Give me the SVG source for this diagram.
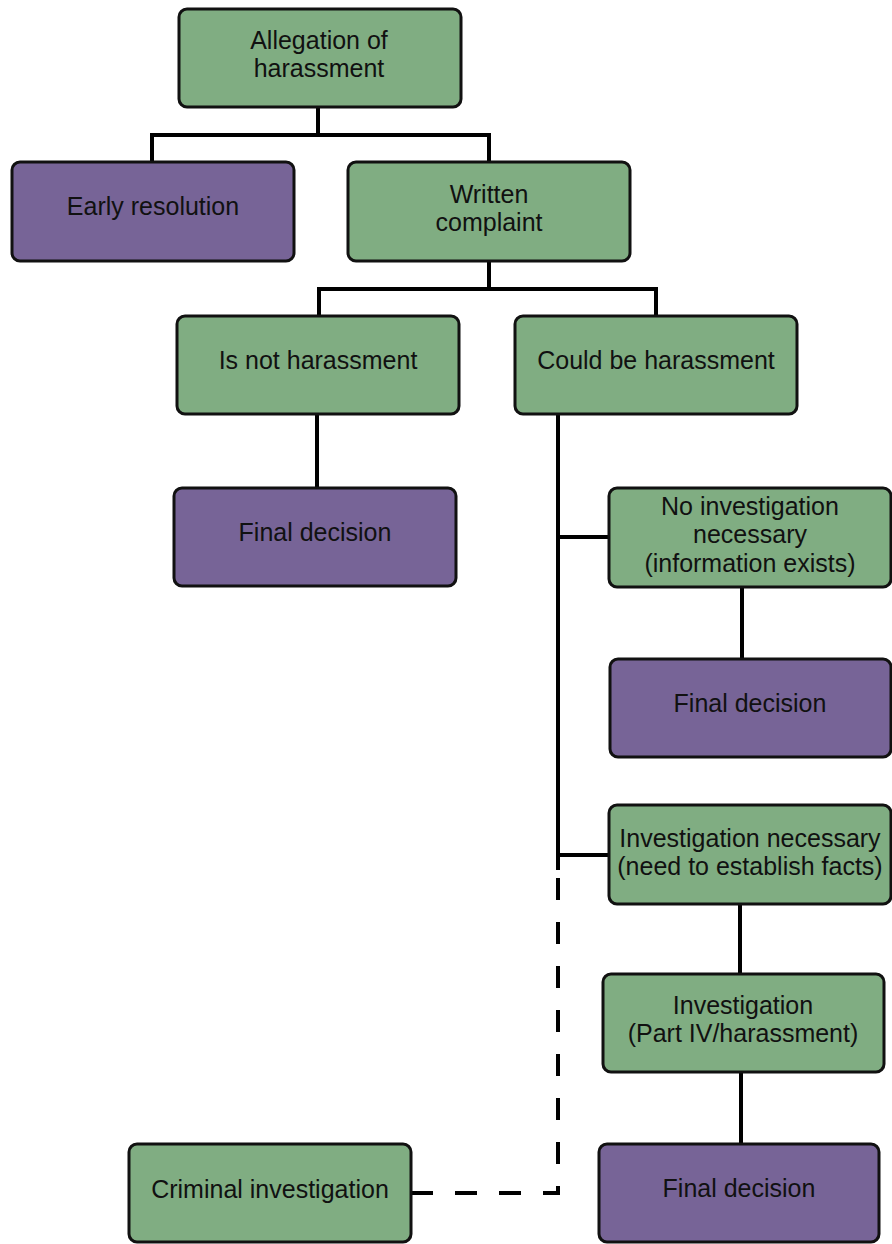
<svg xmlns="http://www.w3.org/2000/svg" width="892" height="1244" viewBox="0 0 892 1244">
<style>
.g{fill:#80ad82;stroke:#111;stroke-width:3}
.p{fill:#776497;stroke:#111;stroke-width:3}
text{font-family:"Liberation Sans",Arial,sans-serif;font-size:25px;fill:#111;text-anchor:middle}
.c{fill:none;stroke:#000;stroke-width:4}
.d{fill:none;stroke:#000;stroke-width:4;stroke-dasharray:22 22}
</style>
<rect width="892" height="1244" fill="#fff"/>
<g id="connectors">
<path class="c" d="M318 107V135M152 135H489M152 133V162M489 133V162"/>
<path class="c" d="M489 261V289M319 289H656M319 287V316M656 287V316"/>
<path class="c" d="M317 414V488"/>
<path class="c" d="M558 414V870M556 537H609M556 855H609"/>
<path class="c" d="M742 587V659"/>
<path class="c" d="M740 904V974"/>
<path class="c" d="M741 1072V1144"/>
<path class="d" d="M411 1193H558V870"/>
</g>
<g id="n1"><rect class="g" x="179" y="9" width="282" height="98" rx="8"/><text x="319" y="49">Allegation of</text><text x="319" y="77">harassment</text></g>
<g id="n2"><rect class="p" x="12" y="162" width="282" height="99" rx="8"/><text x="153" y="215">Early resolution</text></g>
<g id="n3"><rect class="g" x="348" y="162" width="282" height="99" rx="8"/><text x="489" y="203">Written</text><text x="489" y="231">complaint</text></g>
<g id="n4"><rect class="g" x="177" y="316" width="282" height="98" rx="8"/><text x="318" y="369">Is not harassment</text></g>
<g id="n5"><rect class="g" x="515" y="316" width="282" height="98" rx="8"/><text x="656" y="369">Could be harassment</text></g>
<g id="n6"><rect class="p" x="174" y="488" width="282" height="98" rx="8"/><text x="315" y="541">Final decision</text></g>
<g id="n7"><rect class="g" x="609" y="488" width="282" height="99" rx="8"/><text x="750" y="515">No investigation</text><text x="750" y="543">necessary</text><text x="750" y="572">(information exists)</text></g>
<g id="n8"><rect class="p" x="610" y="659" width="281" height="98" rx="8"/><text x="750" y="712">Final decision</text></g>
<g id="n9"><rect class="g" x="609" y="805" width="282" height="99" rx="8"/><text x="750" y="847">Investigation necessary</text><text x="750" y="875">(need to establish facts)</text></g>
<g id="n10"><rect class="g" x="603" y="974" width="281" height="98" rx="8"/><text x="743" y="1014">Investigation</text><text x="743" y="1042">(Part IV/harassment)</text></g>
<g id="n11"><rect class="p" x="599" y="1144" width="280" height="98" rx="8"/><text x="739" y="1197">Final decision</text></g>
<g id="n12"><rect class="g" x="129" y="1144" width="282" height="98" rx="8"/><text x="270" y="1198">Criminal investigation</text></g>
</svg>
